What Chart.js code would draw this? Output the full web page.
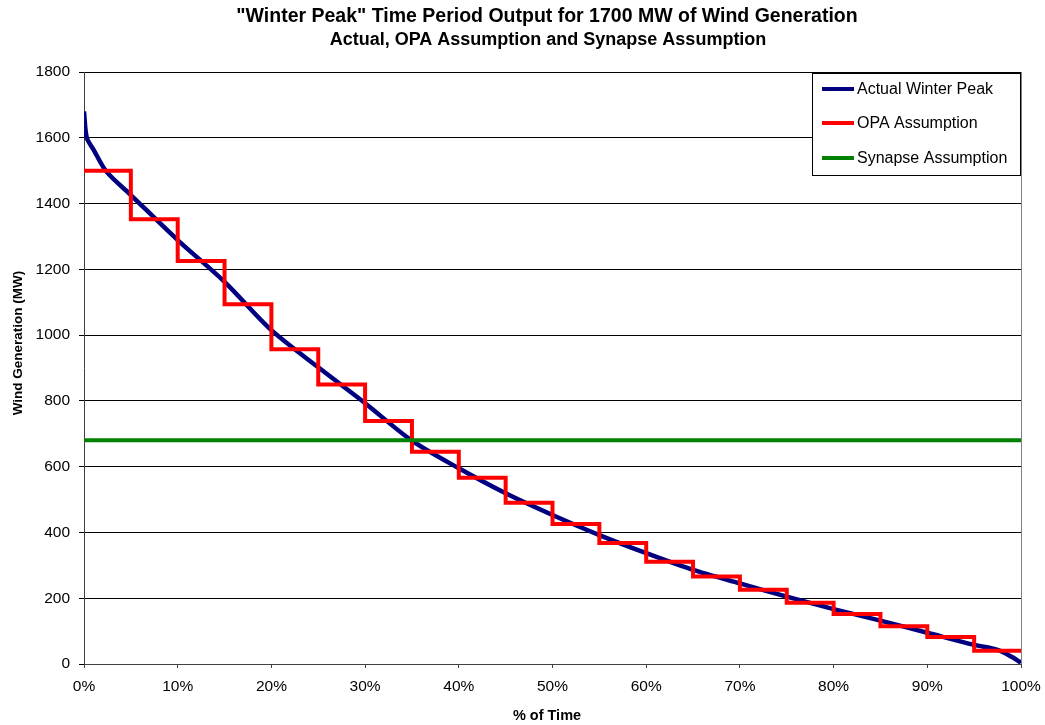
<!DOCTYPE html>
<html>
<head>
<meta charset="utf-8">
<script src="https://cdn.jsdelivr.net/npm/chart.js@4.4.1/dist/chart.umd.min.js"></script>
<style>
  html, body { margin: 0; padding: 0; background: #fff; }
  #wrap { width: 1045px; height: 725px; }
</style>
</head>
<body>
<div id="wrap"><canvas id="chart" width="1045" height="725"></canvas></div>
<script>
// % of time for the actual duration curve
const actualPct = [0, 0.3, 1, 2.4, 5, 10, 15, 20, 25, 30, 35, 40, 45, 50, 55, 60, 65, 70, 75, 80, 85, 90, 95, 97.5, 99, 100];
// Actual winter peak output (MW)
const actualMW = [1680, 1600, 1565, 1497, 1426, 1289, 1162, 1015, 902, 793, 679, 595, 519, 453, 392, 337, 286, 245, 205, 167, 132, 95, 58, 43, 22, 4];

// OPA step blocks, every 5% of time
const opaPct = [0, 5, 10, 15, 20, 25, 30, 35, 40, 45, 50, 55, 60, 65, 70, 75, 80, 85, 90, 95, 100];
const opaMW = [1500, 1352, 1225, 1094, 957, 850, 739, 645, 566, 490, 426, 368, 311, 266, 226, 186, 152, 115, 82, 40, 40];

// Synapse flat assumption
const synapsePct = [0, 100];
const synapseMW = [680, 680];

const seriesNames = ['Actual Winter Peak', 'OPA Assumption', 'Synapse Assumption'];
const seriesColors = ['#000080', '#ff0000', '#008000'];

const titleText = '"Winter Peak" Time Period Output for 1700 MW of Wind Generation';
const subtitleText = 'Actual, OPA Assumption and Synapse Assumption';
const xTitle = '% of Time';
const yTitle = 'Wind Generation (MW)';

const FONT = '"Liberation Sans", Arial, sans-serif';

function toPoints(xs, ys) {
  return xs.map((x, i) => ({ x: x, y: ys[i] }));
}

// titles drawn by hand so they sit where Excel put them
const titles = {
  id: 'titles',
  afterDraw(chart) {
    const ctx = chart.ctx;
    ctx.save();
    ctx.fillStyle = '#000';
    ctx.textAlign = 'center';
    ctx.textBaseline = 'middle';
    ctx.font = 'bold 19.5px ' + FONT;
    ctx.fillText(titleText, 547, 17);
    ctx.font = 'bold 18px ' + FONT;
    ctx.fillText(subtitleText, 548, 40);
    ctx.font = 'bold 14.5px ' + FONT;
    ctx.fillText(xTitle, 547, 716);
    ctx.translate(18, 343);
    ctx.rotate(-Math.PI / 2);
    ctx.font = 'bold 13.5px ' + FONT;
    ctx.fillText(yTitle, 0, 0);
    ctx.restore();
  }
};

// legend box inside the plot area (top right)
const boxLegend = {
  id: 'boxLegend',
  afterDraw(chart) {
    const ctx = chart.ctx;
    const area = chart.chartArea;
    const w = 209, h = 103;
    const x0 = area.right - w, y0 = area.top + 1;
    ctx.save();
    ctx.fillStyle = '#fff';
    ctx.fillRect(x0, y0, w, h);
    ctx.strokeStyle = '#000';
    ctx.lineWidth = 1;
    ctx.strokeRect(x0 + 0.5, y0 + 0.5, w - 1, h - 1);
    ctx.font = '16px ' + FONT;
    ctx.textBaseline = 'middle';
    ctx.fillStyle = '#000';
    const rows = [16, 50, 85];
    seriesNames.forEach((name, i) => {
      const y = y0 + rows[i];
      ctx.strokeStyle = seriesColors[i];
      ctx.lineWidth = 4;
      ctx.beginPath();
      ctx.moveTo(x0 + 10, y);
      ctx.lineTo(x0 + 42, y);
      ctx.stroke();
      ctx.fillText(name, x0 + 45, y + 1);
    });
    ctx.restore();
  }
};

// gray right edge of the plot frame
const frameEdge = {
  id: 'frameEdge',
  beforeDatasetsDraw(chart) {
    const ctx = chart.ctx;
    const a = chart.chartArea;
    ctx.save();
    ctx.strokeStyle = '#808080';
    ctx.lineWidth = 1;
    ctx.beginPath();
    ctx.moveTo(a.right + 0.5, a.top);
    ctx.lineTo(a.right + 0.5, a.bottom);
    ctx.stroke();
    ctx.restore();
  }
};

new Chart(document.getElementById('chart'), {
  type: 'line',
  data: {
    datasets: [
      {
        label: seriesNames[0],
        data: toPoints(actualPct, actualMW),
        borderColor: seriesColors[0],
        borderWidth: 4.5,
        pointRadius: 0,
        tension: 0.3,
        order: 2,
      },
      {
        label: seriesNames[1],
        data: toPoints(opaPct, opaMW),
        borderColor: seriesColors[1],
        borderWidth: 4,
        pointRadius: 0,
        stepped: 'before',
        order: 1,
      },
      {
        label: seriesNames[2],
        data: toPoints(synapsePct, synapseMW),
        borderColor: seriesColors[2],
        borderWidth: 4,
        pointRadius: 0,
        order: 0,
      },
    ],
  },
  options: {
    responsive: false,
    animation: false,
    layout: { padding: { left: 0, right: 24, top: 72, bottom: 0 } },
    plugins: {
      legend: { display: false },
      tooltip: { enabled: false },
      title: { display: false },
    },
    scales: {
      x: {
        type: 'linear',
        min: 0,
        max: 100,
        ticks: {
          stepSize: 10,
          color: '#000',
          font: { family: FONT, size: 15.5 },
          padding: 9,
          maxRotation: 0,
          callback: (v) => v + '%',
        },
        grid: { drawOnChartArea: false, drawTicks: true, tickLength: 4, color: '#404040' },
        border: { color: '#404040', width: 1 },
        afterFit: (scale) => {
          scale.height = 61;
          scale.paddingLeft = 0;
          scale.paddingRight = 0;
        },
      },
      y: {
        min: 0,
        max: 1800,
        ticks: {
          stepSize: 200,
          color: '#000',
          font: { family: FONT, size: 15.5 },
          padding: 9,
          callback: (v) => String(v),
        },
        grid: { color: '#000', lineWidth: 1, tickLength: 5 },
        border: { color: '#404040', width: 1 },
        afterFit: (scale) => { scale.width = 84; },
      },
    },
  },
  plugins: [frameEdge, boxLegend, titles],
});
</script>
</body>
</html>
